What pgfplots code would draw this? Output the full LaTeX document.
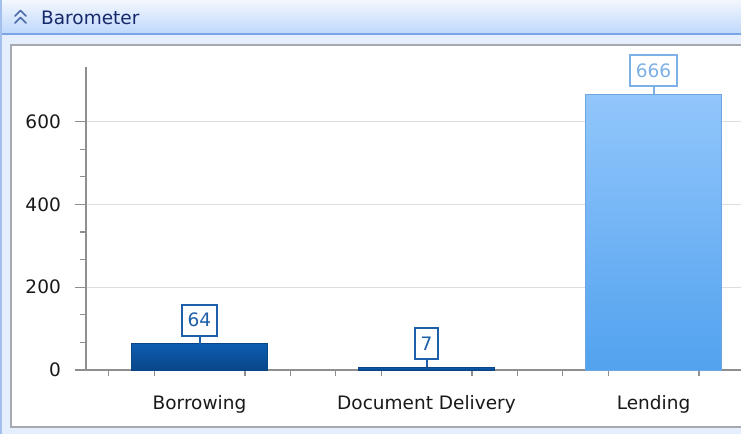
\documentclass[border=0pt]{standalone}
\usepackage{pgfplots}
\pgfplotsset{compat=1.18}
\usepackage{fontspec}
\setmainfont{DejaVu Sans}

\definecolor{panelbg}{HTML}{E4EEFC}
\definecolor{headtop}{HTML}{F3F7FE}
\definecolor{headbot}{HTML}{BED7FB}
\definecolor{headline}{HTML}{7BA5E6}
\definecolor{frame}{HTML}{A7A9AE}
\definecolor{titlecol}{HTML}{16296B}
\definecolor{iconcol}{HTML}{4A6AA8}
\definecolor{axiscol}{HTML}{8F8F8F}
\definecolor{gridcol}{HTML}{DDDDDD}
\definecolor{darktop}{HTML}{0E5DB2}
\definecolor{darkbot}{HTML}{094689}
\definecolor{darkedge}{HTML}{0A4585}
\definecolor{darklab}{HTML}{1D5FA8}
\definecolor{lighttop}{HTML}{92C6FB}
\definecolor{lightbot}{HTML}{52A2EF}
\definecolor{lightedge}{HTML}{6DA6E0}
\definecolor{lightlab}{HTML}{7CB0E6}

\begin{document}
\begin{tikzpicture}[x=1pt,y=1pt]
\path[use as bounding box] (0,0) rectangle (741,434);
\clip (0,0) rectangle (741,434);
% panel
\fill[panelbg] (0,0) rectangle (741,434);
\shade[top color=headtop, bottom color=headbot] (0,400) rectangle (741,434);
\draw[headline, line width=1.5pt] (0,400) -- (741,400);
\draw[headline!70, line width=2pt] (1,0) -- (1,434);
\draw[frame, line width=2pt, fill=white] (11,7) rectangle (780,389);
% title
\draw[iconcol, line width=1.7pt, line cap=round, line join=round]
  (15,418) -- (20.5,423.5) -- (26,418) (15,411) -- (20.5,416.5) -- (26,411);
\node[anchor=base west, inner sep=0pt, text=titlecol,
  font=\fontsize{18.5}{22}\selectfont] at (41,409) {Barometer};

\begin{axis}[
    at={(86pt,64pt)}, anchor=south west,
    scale only axis,
    width=681pt, height=303.5pt,
    xmin=-0.5, xmax=2.5,
    ymin=0, ymax=733,
    axis lines*=left,
    axis line style={axiscol, line width=1.5pt},
    tick align=outside,
    tick style={axiscol, line width=1.2pt},
    major tick length=11pt,
    minor tick length=5.5pt,
    ytick={0,200,400,600},
    minor y tick num=2,
    xtick={0,1,2},
    xticklabels={Borrowing, Document Delivery, Lending},
    xtick style={draw=none},
    minor xtick={-0.4,-0.2,0.2,0.4,0.6,0.8,1.2,1.4,1.6,1.8,2.2,2.4},
    minor x tick style={draw=axiscol},
    ymajorgrids,
    grid style={gridcol, line width=1pt},
    /pgf/number format/assume math mode=true,
    tick label style={font=\fontsize{18.5}{22}\selectfont, text=black!90},
    yticklabel style={inner sep=0pt, xshift=-14pt},
    xticklabel style={inner sep=0pt, yshift=-14pt},
    every axis plot/.append style={ybar, bar width=0.6, bar shift=0pt,
      line width=1pt},
    nodes near coords,
    every node near coord/.append style={anchor=south, yshift=7pt, fill=white,
      line width=2pt, inner xsep=6pt, minimum height=31pt,
      font=\fontsize{18.5}{22}\selectfont},
  ]
  \addplot[draw=darkedge, top color=darktop, bottom color=darkbot,
    every node near coord/.append style={draw=darklab, text=darklab,
      append after command={(\tikzlastnode.south) edge[draw=darklab, line width=2pt] ([yshift=-7pt]\tikzlastnode.south)}}]
    coordinates {(0,64)};
  \addplot[draw=darkedge, top color=darktop, bottom color=darkbot,
    every node near coord/.append style={draw=darklab, text=darklab,
      append after command={(\tikzlastnode.south) edge[draw=darklab, line width=2pt] ([yshift=-7pt]\tikzlastnode.south)}}]
    coordinates {(1,7)};
  \addplot[draw=lightedge, top color=lighttop, bottom color=lightbot,
    every node near coord/.append style={draw=lightlab, text=lightlab,
      append after command={(\tikzlastnode.south) edge[draw=lightlab, line width=2pt] ([yshift=-7pt]\tikzlastnode.south)}}]
    coordinates {(2,666)};
\end{axis}
\end{tikzpicture}
\end{document}
